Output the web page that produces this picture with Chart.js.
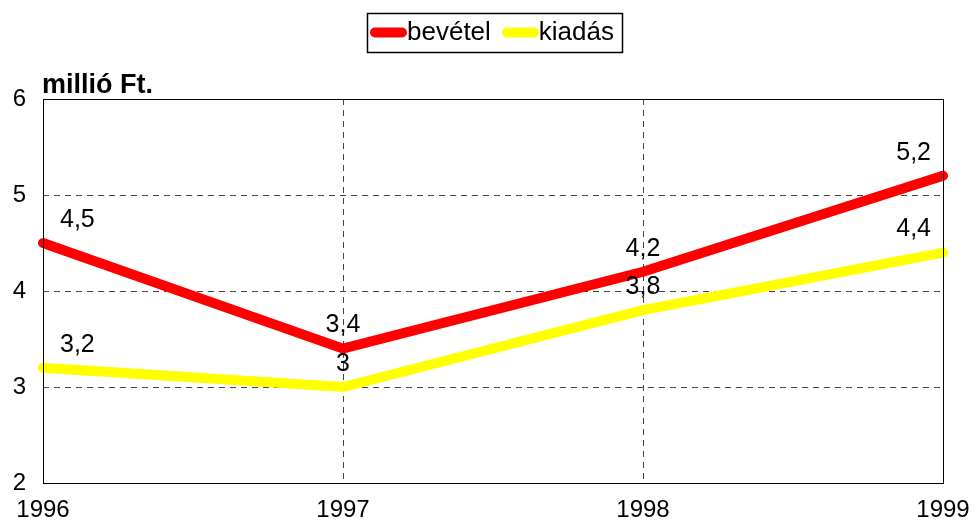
<!DOCTYPE html>
<html>
<head>
<meta charset="utf-8">
<script src="https://cdn.jsdelivr.net/npm/chart.js@4/dist/chart.umd.min.js"></script>
<style>
  html, body { margin: 0; padding: 0; background: #fff; }
  #wrap { width: 977px; height: 522px; }
</style>
</head>
<body>
<div id="wrap"><canvas id="chart"></canvas></div>
<script>
// Data
const years = ['1996', '1997', '1998', '1999'];
const bevetel = [4.5, 3.4, 4.2, 5.2];
const kiadas = [3.2, 3.0, 3.8, 4.4];
const yTicks = [2, 3, 4, 5, 6];
const unitTitle = 'millió Ft.';

const FONT = 'Arial, "Liberation Sans", sans-serif';

// hungarian decimal comma
const fmt = v => String(v).replace('.', ',');

// frame, unit title, legend box and point labels
const extras = {
    id: 'extras',
    afterDatasetsDraw(chart) {
        const { ctx, chartArea: a } = chart;
        ctx.save();
        // solid frame round the plot
        ctx.strokeStyle = '#000';
        ctx.lineWidth = 1;
        ctx.setLineDash([]);
        ctx.strokeRect(a.left + 0.5, a.top + 0.5, a.right - a.left, a.bottom - a.top);

        // value labels above the points, kept inside the plot
        ctx.font = '25px ' + FONT;
        ctx.fillStyle = '#000';
        ctx.textAlign = 'center';
        ctx.textBaseline = 'middle';
        chart.data.datasets.forEach((ds, i) => {
            chart.getDatasetMeta(i).data.forEach((pt, j) => {
                const txt = fmt(ds.data[j]);
                const w = ctx.measureText(txt).width;
                let x = pt.x;
                x = Math.max(a.left + 17 + w / 2, Math.min(a.right - 12 - w / 2, x));
                ctx.fillText(txt, x, pt.y - 23);
            });
        });

        // unit title
        ctx.font = 'bold 27px ' + FONT;
        ctx.textAlign = 'left';
        ctx.textBaseline = 'alphabetic';
        ctx.fillText(unitTitle, 42, 93);

        // legend
        ctx.font = '26px ' + FONT;
        ctx.textBaseline = 'middle';
        const lineLen = 38, itemGap = 10;
        let total = 0;
        const widths = chart.data.datasets.map(ds => ctx.measureText(ds.label).width);
        widths.forEach((w, i) => { total += lineLen + w + (i ? itemGap : 0); });
        const boxL = 367, boxT = 13, boxH = 39;
        const boxW = total + 10;
        ctx.strokeStyle = '#000';
        ctx.lineWidth = 1.5;
        ctx.strokeRect(boxL + 0.5, boxT + 0.5, boxW, boxH);
        let x = boxL + 2;
        const cy = boxT + boxH / 2;
        chart.data.datasets.forEach((ds, i) => {
            ctx.strokeStyle = ds.borderColor;
            ctx.lineWidth = 10;
            ctx.lineCap = 'round';
            ctx.beginPath();
            ctx.moveTo(x + 6, cy);
            ctx.lineTo(x + lineLen - 5, cy);
            ctx.stroke();
            ctx.fillStyle = '#000';
            ctx.textAlign = 'left';
            ctx.fillText(ds.label, x + lineLen, cy);
            x += lineLen + widths[i] + itemGap;
        });
        ctx.restore();
    }
};

new Chart(document.getElementById('chart').getContext('2d'), {
    type: 'line',
    data: {
        labels: years,
        datasets: [
            {
                label: 'bevétel',
                data: bevetel,
                borderColor: '#ff0000',
                backgroundColor: '#ff0000',
                borderWidth: 10,
                borderCapStyle: 'round',
                pointRadius: 0,
                tension: 0
            },
            {
                label: 'kiadás',
                data: kiadas,
                borderColor: '#ffff00',
                backgroundColor: '#ffff00',
                borderWidth: 10,
                borderCapStyle: 'round',
                pointRadius: 0,
                tension: 0
            }
        ]
    },
    options: {
        responsive: true,
        maintainAspectRatio: false,
        animation: false,
        layout: { padding: { top: 99, right: 34, left: 0, bottom: 0 } },
        plugins: {
            legend: { display: false },
            tooltip: { enabled: false }
        },
        scales: {
            x: {
                offset: false,
                grid: { color: '#444', drawTicks: false },
                border: { display: false, dash: [6, 5] },
                ticks: { color: '#000', font: { size: 24, family: FONT }, padding: 13, maxRotation: 0 },
                afterFit: s => { s.height = 39; s.paddingLeft = 0; s.paddingRight = 0; }
            },
            y: {
                min: 2,
                max: 6,
                afterBuildTicks: s => { s.ticks = yTicks.map(v => ({ value: v })); },
                grid: { color: '#444', drawTicks: false },
                border: { display: false, dash: [6, 5] },
                ticks: { color: '#000', font: { size: 24, family: FONT }, padding: 17 },
                afterFit: s => { s.width = 43; s.paddingTop = 0; s.paddingBottom = 0; }
            }
        }
    },
    plugins: [extras]
});
</script>
</body>
</html>
